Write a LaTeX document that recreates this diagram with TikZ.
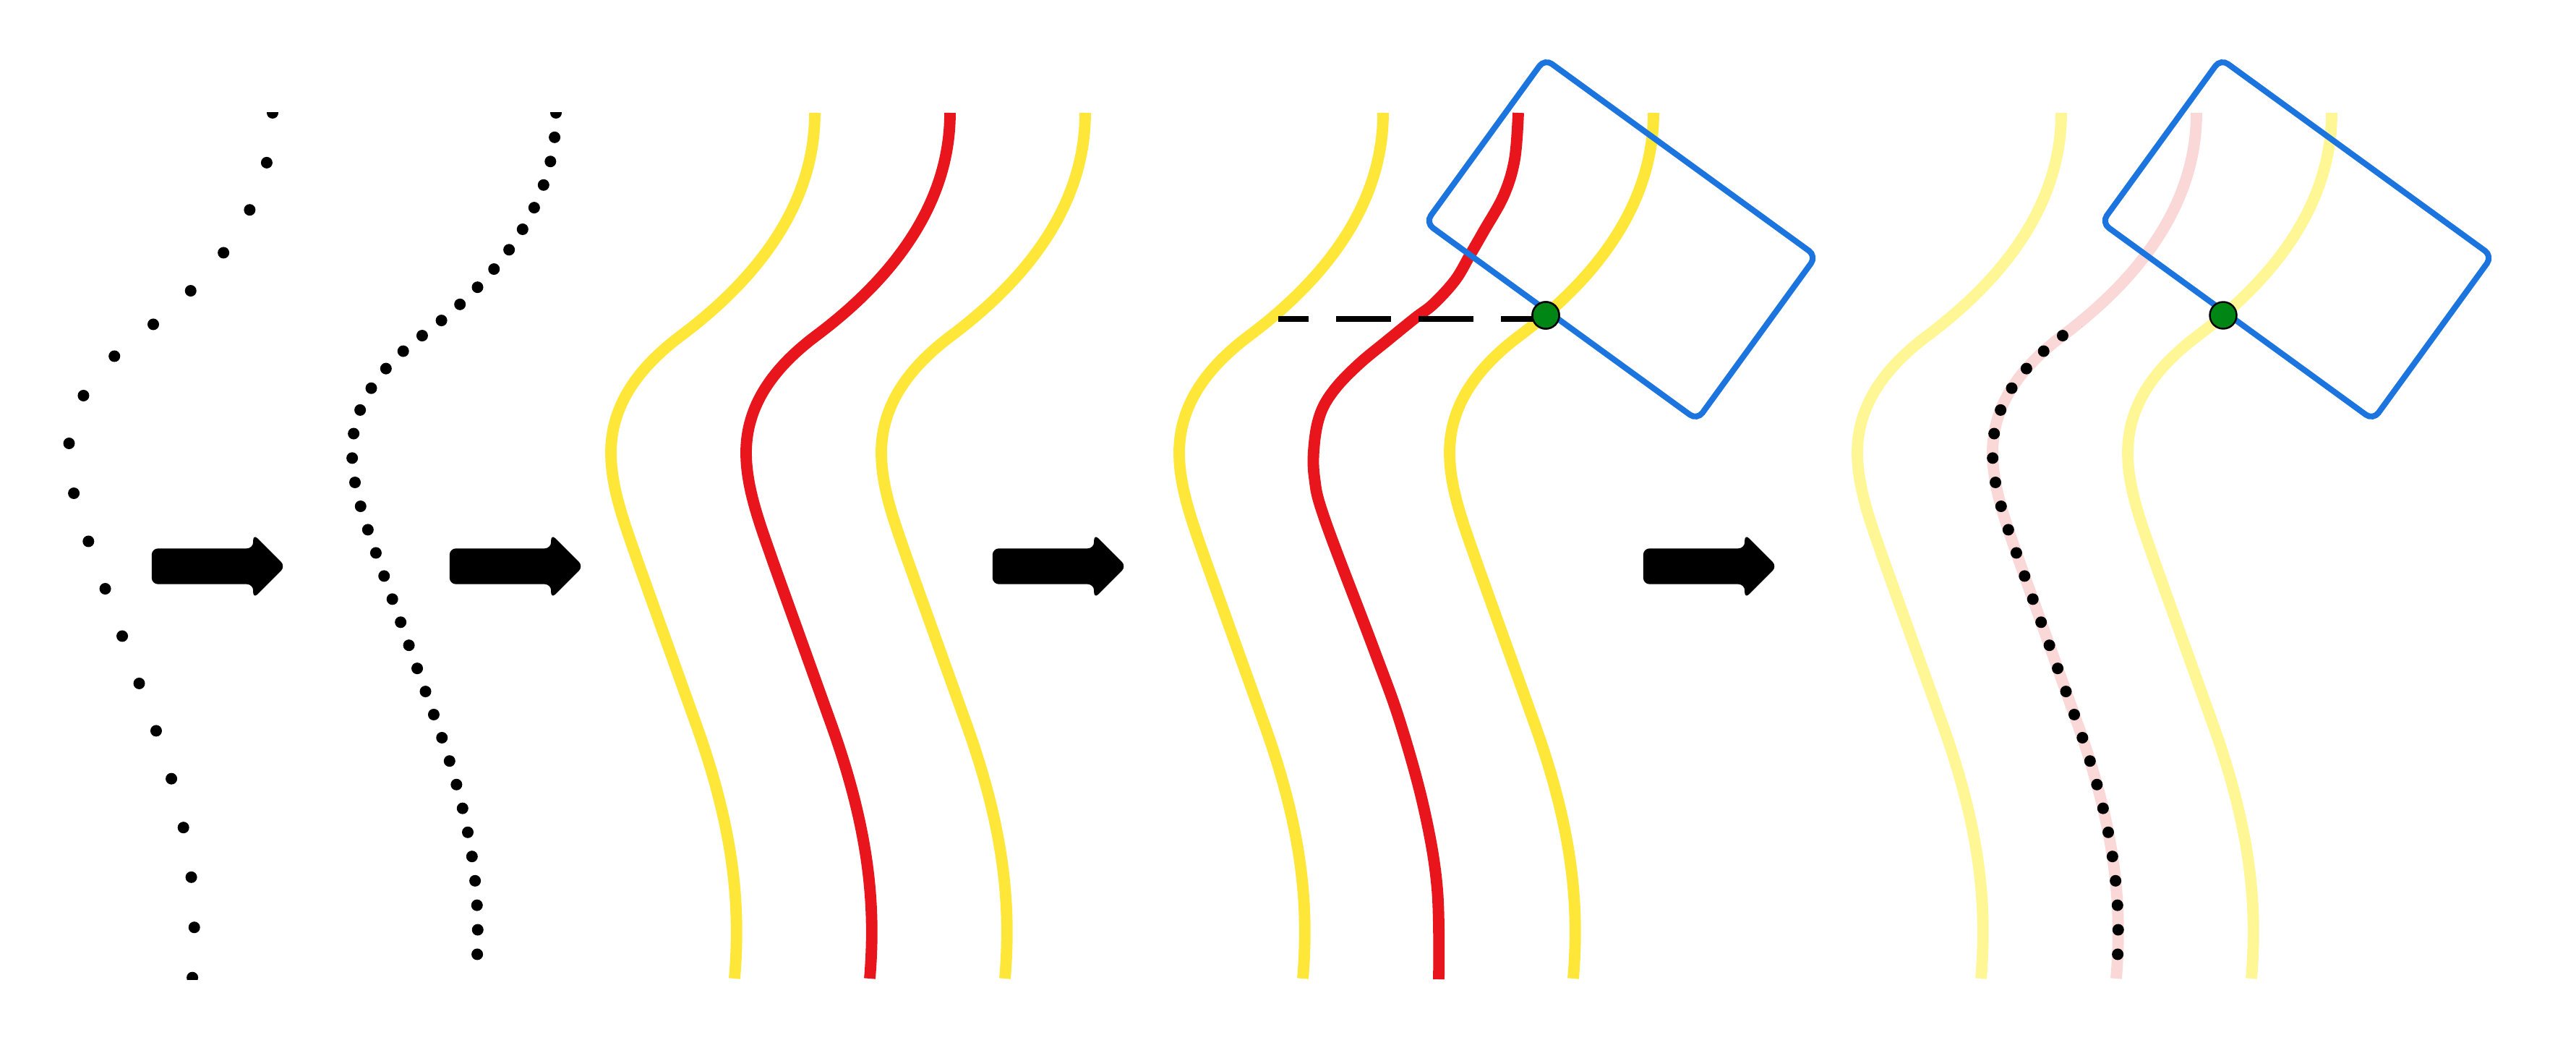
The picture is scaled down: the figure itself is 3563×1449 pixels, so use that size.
\documentclass[tikz,border=0pt]{standalone}
\usepackage{xcolor}
\usepackage{tikz}
\usetikzlibrary{shapes.arrows, calc}
\definecolor{laneyellow}{RGB}{255,231,58}
\definecolor{trackred}{RGB}{232,22,28}
\definecolor{boxblue}{RGB}{28,116,222}
\definecolor{hitgreen}{RGB}{0,134,20}
\definecolor{paleyellow}{RGB}{255,247,150}
\definecolor{palered}{RGB}{251,216,216}
\tikzset{
  lane/.style={draw=laneyellow, line width=4.5pt},
  track/.style={draw=trackred, line width=4.5pt},
  palelane/.style={draw=paleyellow, line width=4.5pt},
  paletrack/.style={draw=palered, line width=4.5pt},
  dotrow/.style={draw=black, line width=0.16cm, line cap=round, dash pattern=on 0pt off #1},
  viewbox/.style={draw=boxblue, line width=2.3pt, rounded corners=3.5pt,
    minimum width=4.64cm, minimum height=2.8cm, inner sep=0pt},
  hitdot/.style={circle, draw=black, fill=hitgreen, line width=0.7pt,
    minimum size=0.37cm, inner sep=0pt},
  gapline/.style={line width=2pt, dash pattern=on 0.76cm off 0.38cm, dash phase=0.34cm},
  bigarrow/.style={single arrow, fill=black, minimum height=1.85cm, minimum width=0.86cm,
    single arrow head extend=0.2cm, inner xsep=0pt, inner ysep=0.24cm, rounded corners=2.5pt}
}
% centre line of one lane, measured from its top end
\newcommand{\wavepath}{(0,0) .. controls (0,140) and (-97,242) .. (-185,308)
  .. controls (-245,353) and (-282,405) .. (-282,470)
  .. controls (-282,520) and (-262,571) .. (-244,623) -- (-164,846)
  .. controls (-110,997) and (-103,1100) .. (-111,1197)}

\begin{document}
\begin{tikzpicture}[x=0.01cm, y=-0.01cm]
  \useasboundingbox (0,0) rectangle (3563,1449);

  % Sparse and dense samples
  \begin{scope}
    \clip (0,156) rectangle (3563,1354);
    \draw[dotrow=0.695cm, shift={(377,156)}] \wavepath;
    \draw[dotrow=0.339cm, shift={(769,156)}] \wavepath;
  \end{scope}
  \node[bigarrow] (arr1) at (290,783) {};
  \node[bigarrow] (arr2) at (702,783) {};

  % Fitted line with lane borders
  \draw[lane, shift={(1127,156)}] \wavepath;
  \draw[track, shift={(1314,156)}] \wavepath;
  \draw[lane, shift={(1501,156)}] \wavepath;
  \node[bigarrow] (arr3) at (1453,783) {};

  % Window and lateral distance
  \draw[lane, shift={(1913,156)}] \wavepath;
  \draw[lane, shift={(2287,156)}] \wavepath;
  \draw[track] plot[smooth, tension=0.6] coordinates {(2100,156) (2095,220) (2080,270)
    (2052,320) (2033,353) (2013,387) (1983,420) (1957,440) (1920,470) (1880,503)
    (1847,537) (1827,570) (1818,612) (1818,660) (1833,720) (1900,897) (1937,1000)
    (1970,1120) (1988,1230) (1990,1354)};
  \node[viewbox, rotate=-36] (box4) at (2242,331) {};
  \coordinate (edge4) at (1768,441);
  \node[hitdot] (hit4) at (2138,436) {};
  \draw[gapline] (edge4) -- (edge4 -| hit4);
  \node[hitdot] at (hit4) {};
  \node[bigarrow] (arr4) at (2353,783) {};

  % Resampled result
  \draw[palelane, shift={(2851,156)}] \wavepath;
  \draw[paletrack, shift={(3038,156)}] \wavepath;
  \draw[palelane, shift={(3225,156)}] \wavepath;
  \begin{scope}
    \clip (2700,452) rectangle (3563,1354);
    \draw[dotrow=0.339cm, shift={(3038,156)}] \wavepath;
  \end{scope}
  \node[viewbox, rotate=-36] (box5) at (3177,331) {};
  \node[hitdot] (hit5) at (3075,436) {};
\end{tikzpicture}
\end{document}
